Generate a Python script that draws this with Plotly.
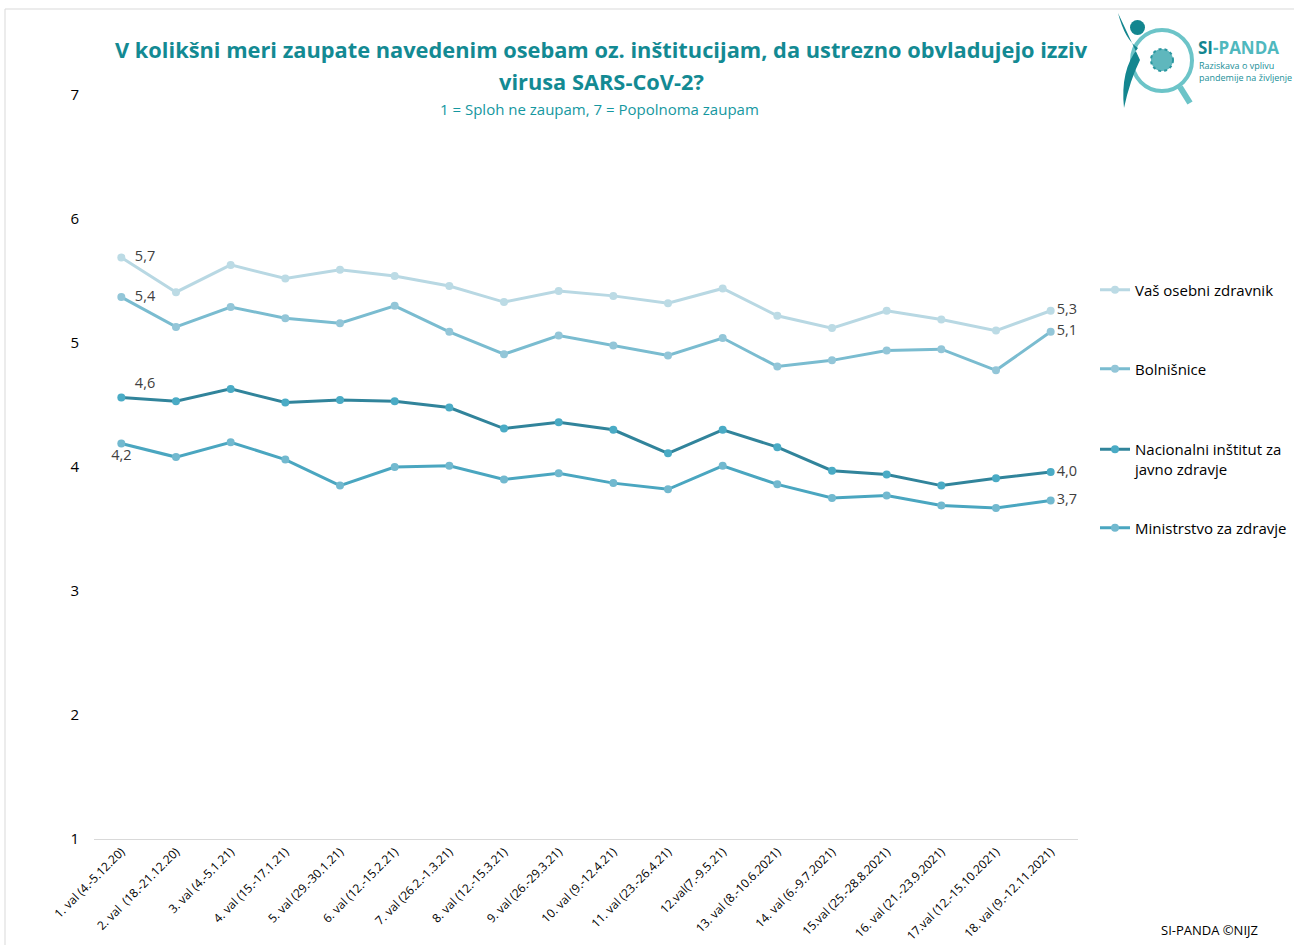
import plotly.graph_objects as go

categories = ["1. val (4.-5.12.20)", "2. val  (18.-21.12.20)", "3. val (4.-5.1.21)",
              "4. val (15.-17.1.21)", "5. val (29.-30.1.21)", "6. val (12.-15.2.21)",
              "7. val (26.2.-1.3.21)", "8. val (12.-15.3.21)", "9. val (26.-29.3.21)",
              "10. val (9.-12.4.21)", "11. val (23.-26.4.21)", "12.val(7.-9.5.21)",
              "13. val (8.-10.6.2021)", "14. val (6.-9.7.2021)", "15.val (25.-28.8.2021)",
              "16. val (21.-23.9.2021)", "17.val (12.-15.10.2021)", "18. val (9.-12.11.2021)"]

zdravnik = [5.69, 5.41, 5.63, 5.52, 5.59, 5.54, 5.46, 5.33, 5.42, 5.38, 5.32, 5.44,
            5.22, 5.12, 5.26, 5.19, 5.10, 5.26]
bolnisnice = [5.37, 5.13, 5.29, 5.20, 5.16, 5.30, 5.09, 4.91, 5.06, 4.98, 4.90, 5.04,
              4.81, 4.86, 4.94, 4.95, 4.78, 5.09]
nijz = [4.56, 4.53, 4.63, 4.52, 4.54, 4.53, 4.48, 4.31, 4.36, 4.30, 4.11, 4.30,
        4.16, 3.97, 3.94, 3.85, 3.91, 3.96]
ministrstvo = [4.19, 4.08, 4.20, 4.06, 3.85, 4.00, 4.01, 3.90, 3.95, 3.87, 3.82, 4.01,
               3.86, 3.75, 3.77, 3.69, 3.67, 3.73]

series_names = ["Vaš osebni zdravnik", "Bolnišnice",
                "Nacionalni inštitut za<br>javno zdravje", "Ministrstvo za zdravje"]
series_values = [zdravnik, bolnisnice, nijz, ministrstvo]
y_ticks = [1, 2, 3, 4, 5, 6, 7]

line_colors = ["#b8d8e3", "#7abcd0", "#31849b", "#4aa6c0"]
marker_colors = ["#bcdbe5", "#93c6d8", "#4aabc5", "#72b9cf"]
first_pos = ["middle right", "middle right", "top right", "bottom center"]

W, H = 1294, 945
L, R, T, B = 94, 1078, 95, 839


def px(x):
    return (x - L) / (R - L)


def py(y):
    return (B - y) / (B - T)


fig = go.Figure()
n = len(categories)
legend_y = [290, 369, 459, 528]
legend_ids = ["legend", "legend2", "legend3", "legend4"]
for i, (name, vals) in enumerate(zip(series_names, series_values)):
    text = [""] * n
    text[0] = "  " + f"{vals[0]:.1f}".replace(".", ",")
    text[-1] = f"{vals[-1]:.1f}".replace(".", ",")
    if i == 3:
        text[0] = f"{vals[0]:.1f}".replace(".", ",")
    pos = ["middle right"] * n
    pos[0] = first_pos[i]
    fig.add_trace(go.Scatter(
        x=categories, y=vals, name=name, mode="lines+markers+text",
        line=dict(color=line_colors[i], width=3),
        marker=dict(color=marker_colors[i], size=8),
        text=text, textposition=pos,
        textfont=dict(family="Open Sans", size=14.5, color="#404040"),
        legend=legend_ids[i], cliponaxis=False,
    ))

legend_common = dict(font=dict(family="Open Sans", size=15, color="#000000"),
                     bgcolor="rgba(0,0,0,0)", xanchor="left", yanchor="middle",
                     valign="top", itemwidth=30)
fig.update_layout(
    legend=dict(x=px(1095), y=py(legend_y[0]), **legend_common),
    legend2=dict(x=px(1095), y=py(legend_y[1]), **legend_common),
    legend3=dict(x=px(1095), y=py(legend_y[2]), **legend_common),
    legend4=dict(x=px(1095), y=py(legend_y[3]), **legend_common),
)

fig.update_layout(
    width=W, height=H,
    margin=dict(l=L, r=W - R, t=T, b=H - B, autoexpand=False),
    plot_bgcolor="white", paper_bgcolor="white",
    font=dict(family="Open Sans", color="#000000"),
    showlegend=True,
)
fig.update_xaxes(
    type="category", range=[-0.5, n - 0.5], showgrid=False,
    showline=True, linecolor="#d9d9d9", linewidth=1,
    tickangle=-45, tickfont=dict(family="Open Sans", size=12, color="#000000"),
    ticks="", automargin=False,
)
fig.update_yaxes(
    range=[1, 7], tickvals=y_ticks, showgrid=False, zeroline=False, showline=False,
    tickfont=dict(family="Open Sans", size=15, color="#000000"),
    ticklabelstandoff=14, automargin=False,
)

teal = "#138a93"
annotations = [
    dict(text="<b>V kolikšni meri zaupate navedenim osebam oz. inštitucijam, da ustrezno obvladujejo izziv</b>",
         x=px(601), y=py(50), font=dict(size=21.8, color=teal, family="Open Sans")),
    dict(text="<b>virusa SARS-CoV-2?</b>",
         x=px(601), y=py(81), font=dict(size=21.8, color=teal, family="Open Sans")),
    dict(text="1 = Sploh ne zaupam, 7 = Popolnoma zaupam",
         x=px(599), y=py(109), font=dict(size=15, color="#1597a0", family="Open Sans")),
    dict(text="SI-PANDA ©NIJZ", x=px(1209), y=py(930),
         font=dict(size=13, color="#000000", family="Open Sans")),
    dict(text="<b><span style='color:#13868f'>SI</span><span style='color:#4fb8be'>-PANDA</span></b>",
         x=px(1196), y=py(48), xanchor="left", font=dict(size=17, family="Open Sans")),
    dict(text="Raziskava o vplivu<br>pandemije na življenje",
         x=px(1197), y=py(72), xanchor="left", align="left",
         font=dict(size=9, color="#1a8f98", family="Open Sans")),
]
for a in annotations:
    a.setdefault("xanchor", "center")
    a.update(xref="paper", yref="paper", yanchor="middle", showarrow=False)
fig.update_layout(annotations=annotations)

shapes = [
    # outer border
    dict(type="rect", x0=px(5), x1=px(1300), y0=py(9), y1=py(950),
         line=dict(color="#d9d9d9", width=1)),
    # magnifying glass
    dict(type="circle", x0=px(1132), x1=px(1192), y0=py(30), y1=py(91),
         line=dict(color="#6cc4c8", width=4)),
    dict(type="line", x0=px(1180), x1=px(1190), y0=py(87), y1=py(103),
         line=dict(color="#6cc4c8", width=6)),
    # virus
    dict(type="circle", x0=px(1151), x1=px(1173), y0=py(49), y1=py(71),
         line=dict(color="#2a97a0", width=2, dash="dot"), fillcolor="#5fb7bd"),
    # person head
    dict(type="circle", x0=px(1130), x1=px(1145), y0=py(20), y1=py(35),
         fillcolor="#13868f", line=dict(width=0)),
    # person body
    dict(type="path",
         path=f"M {px(1118)} {py(13)} Q {px(1125)} {py(40)} {px(1138)} {py(48)} "
              f"Q {px(1120)} {py(70)} {px(1124)} {py(108)} "
              f"Q {px(1130)} {py(80)} {px(1140)} {py(60)} Z",
         fillcolor="#13868f", line=dict(width=0)),
]
for s in shapes:
    s.update(xref="paper", yref="paper", layer="above")
fig.update_layout(shapes=shapes)

fig.write_html("out.html", config={"displayModeBar": False},
               post_script="document.body.style.margin='0';document.body.style.overflow='hidden';")
